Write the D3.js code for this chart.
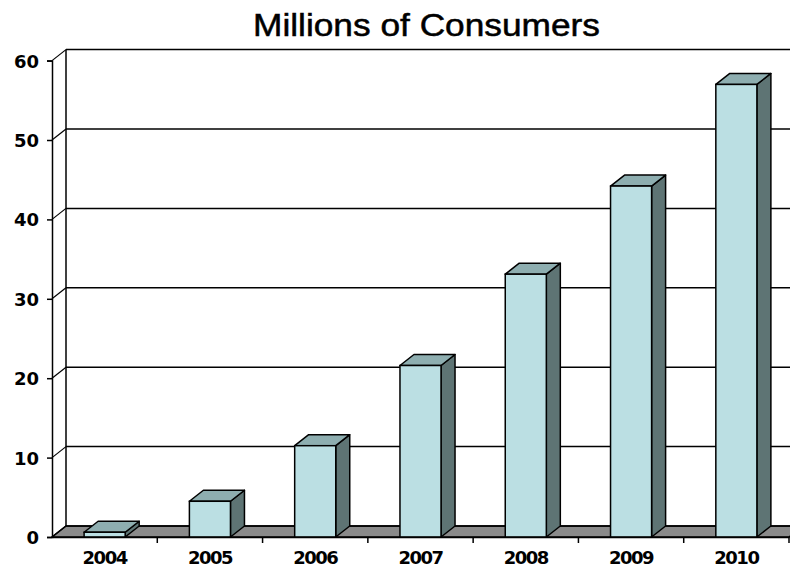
<!DOCTYPE html>
<html>
<head>
<meta charset="utf-8">
<script src="https://cdn.jsdelivr.net/npm/d3@7"></script>
<style>
  body { margin: 0; background: #fff; }
  svg { display: block; }
</style>
</head>
<body>
<div class="visContainer"></div>
<script>
// Chart data.
const years = ['2004', '2005', '2006', '2007', '2008', '2009', '2010'];
const consumers = [0.6, 4.5, 11.5, 21.6, 33.1, 44.2, 57.0];
const yTicks = [0, 10, 20, 30, 40, 50, 60];
const titleText = 'Millions of Consumers';

// SVG constants.
const width = 790;
const height = 567;
const plotLeft = 52;
const plotRight = 789;
const plotBottom = 537;
const plotTop = 60.6;
const depthX = 14;
const depthY = 11;

const svg = d3.select('.visContainer')
              .append('svg')
              .attr('width', width)
              .attr('height', height);

// Scales.
const yScale = d3.scaleLinear()
                 .domain([0, 60])
                 .range([plotBottom, plotTop]);

const xCat = d3.scaleBand()
               .domain(years)
               .range([plotLeft, plotRight]);

const xBar = d3.scaleBand()
               .domain(years)
               .range([plotLeft, plotRight])
               .paddingInner(0.61)
               .paddingOuter(0.305);

// Title.
svg.append('text')
   .attr('x', 426.5)
   .attr('y', 36)
   .attr('text-anchor', 'middle')
   .attr('font-family', '"Liberation Sans", Arial, sans-serif')
   .attr('font-size', '31px')
   .attr('textLength', 347)
   .attr('lengthAdjust', 'spacingAndGlyphs')
   .attr('fill', '#000')
   .attr('stroke', '#000')
   .attr('stroke-width', 0.5)
   .text(titleText);

// Floor.
svg.append('polygon')
   .attr('points', [[plotLeft, plotBottom], [plotRight, plotBottom], [plotRight + depthX, plotBottom - depthY], [plotLeft + depthX, plotBottom - depthY]].join(' '))
   .attr('fill', '#8a8a8a')
   .attr('stroke', '#000')
   .attr('stroke-width', 1.5);

// Back wall gridlines.
svg.selectAll('line.grid')
   .data(yTicks)
   .enter()
   .append('line')
   .attr('class', 'grid')
   .attr('x1', plotLeft + depthX)
   .attr('x2', width + 10)
   .attr('y1', (d) => yScale(d) - depthY)
   .attr('y2', (d) => yScale(d) - depthY)
   .attr('stroke', '#000')
   .attr('stroke-width', 1.5);

// Left wall edge.
svg.append('line')
   .attr('x1', plotLeft + depthX)
   .attr('x2', plotLeft + depthX)
   .attr('y1', yScale(60) - depthY)
   .attr('y2', yScale(0) - depthY)
   .attr('stroke', '#000')
   .attr('stroke-width', 1.5);

// Diagonals from axis ticks to the wall.
svg.selectAll('line.diag')
   .data(yTicks)
   .enter()
   .append('line')
   .attr('class', 'diag')
   .attr('x1', plotLeft)
   .attr('x2', plotLeft + depthX)
   .attr('y1', (d) => yScale(d))
   .attr('y2', (d) => yScale(d) - depthY)
   .attr('stroke', '#000')
   .attr('stroke-width', 1.2);

// Bars.
const bars = svg.selectAll('g.bar')
                .data(years.map((y, i) => ({ year: y, value: consumers[i] })))
                .enter()
                .append('g')
                .attr('class', 'bar');

const bw = xBar.bandwidth();

bars.append('polygon')
    .attr('points', (d) => {
        const x1 = xBar(d.year) + bw;
        const yt = yScale(d.value);
        return [[x1, plotBottom], [x1 + depthX, plotBottom - depthY], [x1 + depthX, yt - depthY], [x1, yt]].join(' ');
    })
    .attr('fill', '#5e7474')
    .attr('stroke', '#000')
    .attr('stroke-width', 1.5)
    .attr('stroke-linejoin', 'round');

bars.append('polygon')
    .attr('points', (d) => {
        const x0 = xBar(d.year);
        const yt = yScale(d.value);
        return [[x0, yt], [x0 + bw, yt], [x0 + bw + depthX, yt - depthY], [x0 + depthX, yt - depthY]].join(' ');
    })
    .attr('fill', '#8eaeb0')
    .attr('stroke', '#000')
    .attr('stroke-width', 1.5)
    .attr('stroke-linejoin', 'round');

bars.append('rect')
    .attr('x', (d) => xBar(d.year))
    .attr('y', (d) => yScale(d.value))
    .attr('width', bw)
    .attr('height', (d) => plotBottom - yScale(d.value))
    .attr('fill', '#bbdfe3')
    .attr('stroke', '#000')
    .attr('stroke-width', 1.5);

// Y axis.
const yAxis = d3.axisLeft(yScale)
                .tickValues(yTicks)
                .tickSize(5)
                .tickPadding(8);

const gy = svg.append('g')
              .attr('transform', 'translate(' + plotLeft + ',0)')
              .call(yAxis);
gy.select('.domain').attr('stroke-width', 1.5);
gy.selectAll('line').attr('stroke-width', 1.5);
gy.selectAll('text')
  .attr('font-family', '"DejaVu Sans", Verdana, sans-serif')
  .attr('font-weight', 'bold')
  .attr('font-size', '18px')
  .attr('dy', '0.36em')
  .attr('fill', '#000');

// X axis.
const xAxis = d3.axisBottom(xCat)
                .tickSize(0)
                .tickPadding(14);

const gx = svg.append('g')
              .attr('transform', 'translate(0,' + plotBottom + ')')
              .call(xAxis);
gx.select('.domain').attr('stroke-width', 1.5);
gx.selectAll('text')
  .attr('font-family', '"DejaVu Sans", Verdana, sans-serif')
  .attr('font-weight', 'bold')
  .attr('font-size', '18px')
  .attr('letter-spacing', '-1.5px')
  .attr('fill', '#000');

// Category separator ticks.
gx.selectAll('line.sep')
  .data(years)
  .enter()
  .append('line')
  .attr('class', 'sep')
  .attr('x1', (d) => xCat(d) + xCat.bandwidth())
  .attr('x2', (d) => xCat(d) + xCat.bandwidth())
  .attr('y1', 0)
  .attr('y2', 6)
  .attr('stroke', '#000')
  .attr('stroke-width', 1.5);
</script>
</body>
</html>
